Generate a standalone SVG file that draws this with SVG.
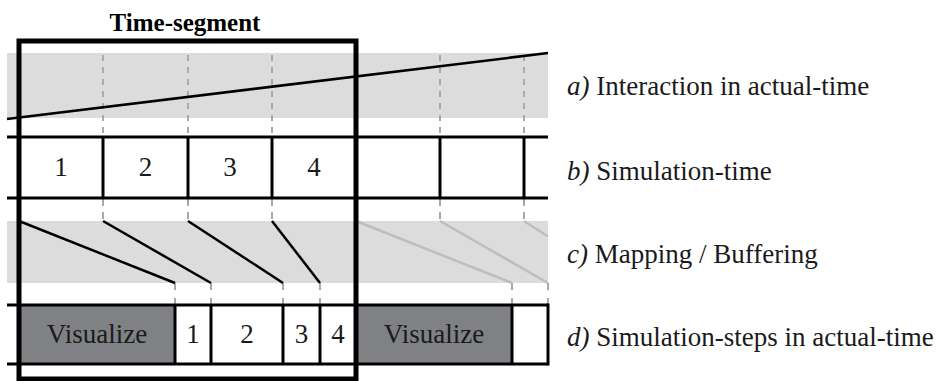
<svg xmlns="http://www.w3.org/2000/svg" width="938" height="381" viewBox="0 0 938 381">
<style>
.band{fill:#dcdcdc}
.dash{stroke:#a9a9a9;stroke-width:2;fill:none}
.rule{stroke:#000;stroke-width:3;fill:none}
.map{stroke:#000;stroke-width:2.5;fill:none}
.mapg{stroke:#bdbdbd;stroke-width:2.5;fill:none}
.vis{fill:#7f8184}
.t{font-family:"Liberation Serif","Times New Roman",serif;font-size:27px;fill:#1a1a1a}
.c{text-anchor:middle}
.lab{font-family:"Liberation Serif","Times New Roman",serif;font-size:27px;fill:#1a1a1a}
.title{font-family:"Liberation Serif","Times New Roman",serif;font-size:25px;font-weight:bold;fill:#000;text-anchor:middle}
</style>
<rect width="938" height="381" fill="#fff"/>
<g id="row-a">
  <rect class="band" x="7" y="53" width="541" height="65"/>
  <g class="dash" stroke-dasharray="6 6">
    <line x1="103" y1="55" x2="103" y2="137"/>
    <line x1="188" y1="55" x2="188" y2="137"/>
    <line x1="272" y1="55" x2="272" y2="137"/>
    <line x1="440" y1="55" x2="440" y2="137"/>
    <line x1="524" y1="55" x2="524" y2="137"/>
  </g>
  <line class="map" x1="7" y1="119" x2="548" y2="53"/>
</g>
<g id="row-c">
  <rect class="band" x="7" y="221" width="541" height="62"/>
  <g class="dash" stroke-dasharray="7 6">
    <line x1="103" y1="199" x2="103" y2="221"/>
    <line x1="188" y1="199" x2="188" y2="221"/>
    <line x1="272" y1="199" x2="272" y2="221"/>
    <line x1="440" y1="199" x2="440" y2="221"/>
    <line x1="524" y1="199" x2="524" y2="221"/>
  </g>
  <g class="dash" stroke-dasharray="7 8">
    <line x1="175" y1="283" x2="175" y2="305"/>
    <line x1="211" y1="283" x2="211" y2="305"/>
    <line x1="283" y1="283" x2="283" y2="305"/>
    <line x1="320" y1="283" x2="320" y2="305"/>
    <line x1="512" y1="283" x2="512" y2="305"/>
    <line x1="548" y1="283" x2="548" y2="305"/>
  </g>
</g>
<g id="connectors">
  <line class="map" x1="19" y1="221" x2="175" y2="283"/>
  <line class="map" x1="103" y1="221" x2="211" y2="283"/>
  <line class="map" x1="188" y1="221" x2="283" y2="283"/>
  <line class="map" x1="272" y1="221" x2="320" y2="283"/>
  <line class="mapg" x1="356" y1="221" x2="512" y2="283"/>
  <line class="mapg" x1="440" y1="221" x2="548" y2="283"/>
  <line class="mapg" x1="524" y1="221" x2="548" y2="236.5"/>
</g>
<g id="row-b">
  <line class="rule" x1="7" y1="137" x2="548" y2="137"/>
  <line class="rule" x1="7" y1="198" x2="548" y2="198"/>
  <line class="rule" x1="103" y1="137" x2="103" y2="198"/>
  <line class="rule" x1="188" y1="137" x2="188" y2="198"/>
  <line class="rule" x1="272" y1="137" x2="272" y2="198"/>
  <line class="rule" x1="440" y1="137" x2="440" y2="198"/>
  <line class="rule" x1="524" y1="137" x2="524" y2="198"/>
  <text class="t c" x="61" y="176">1</text>
  <text class="t c" x="145.5" y="176">2</text>
  <text class="t c" x="230" y="176">3</text>
  <text class="t c" x="314" y="176">4</text>
</g>
<g id="row-d">
  <rect class="vis" x="19" y="305" width="156" height="59"/>
  <rect class="vis" x="356" y="305" width="156" height="59"/>
  <line class="rule" x1="7" y1="305" x2="548" y2="305"/>
  <line class="rule" x1="7" y1="364" x2="548" y2="364"/>
  <line class="rule" x1="175" y1="305" x2="175" y2="364"/>
  <line class="rule" x1="211" y1="305" x2="211" y2="364"/>
  <line class="rule" x1="283" y1="305" x2="283" y2="364"/>
  <line class="rule" x1="320" y1="305" x2="320" y2="364"/>
  <line class="rule" x1="512" y1="305" x2="512" y2="364"/>
  <line class="rule" x1="548" y1="303.5" x2="548" y2="365.5"/>
  <text class="t c" x="97" y="343">Visualize</text>
  <text class="t c" x="193" y="343">1</text>
  <text class="t c" x="247" y="343">2</text>
  <text class="t c" x="301.5" y="343">3</text>
  <text class="t c" x="338" y="343">4</text>
  <text class="t c" x="434" y="343">Visualize</text>
</g>
<g id="time-segment">
  <rect x="19" y="41" width="337" height="338" fill="none" stroke="#000" stroke-width="5"/>
  <text class="title" x="185" y="31">Time-segment</text>
</g>
<g id="labels">
  <text class="lab" x="567" y="95"><tspan font-style="italic">a)</tspan> Interaction in actual-time</text>
  <text class="lab" x="567" y="180"><tspan font-style="italic">b)</tspan> Simulation-time</text>
  <text class="lab" x="567" y="263"><tspan font-style="italic">c)</tspan> Mapping / Buffering</text>
  <text class="lab" x="567" y="346"><tspan font-style="italic">d)</tspan> Simulation-steps in actual-time</text>
</g>
</svg>
